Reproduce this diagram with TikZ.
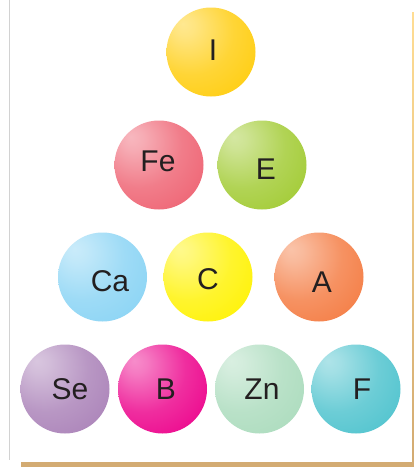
\documentclass[tikz,border=0pt]{standalone}
\usepackage{fontspec}
\setmainfont{Liberation Sans}
\makeatletter
\colorlet{ballc}{red}
\pgfdeclareradialshading[ballc]{sphere}{\pgfpoint{-16bp}{16bp}}{%
  color(0bp)=(ballc!45!white);
  color(6bp)=(ballc!52!white);
  color(24bp)=(ballc!82!white);
  color(44bp)=(ballc);
  color(80bp)=(ballc)}
\makeatother
\definecolor{cI}{HTML}{FFCC0A}
\definecolor{cFe}{HTML}{EE6070}
\definecolor{cE}{HTML}{A0CA30}
\definecolor{cCa}{HTML}{88D3F4}
\definecolor{cC}{HTML}{FFF200}
\definecolor{cA}{HTML}{F47A40}
\definecolor{cSe}{HTML}{A980B7}
\definecolor{cB}{HTML}{EC008A}
\definecolor{cZn}{HTML}{AADBBC}
\definecolor{cF}{HTML}{4CC2CD}
\definecolor{tan}{HTML}{D3AB72}
\definecolor{tanlight}{HTML}{FFDD94}
\definecolor{txt}{HTML}{231F20}
\tikzset{
  sph/.style={circle, draw=none, minimum size=89pt, inner sep=0pt,
    preaction={/utils/exec={\colorlet{ballc}{#1}}, shading=sphere}},
  lbl/.style={font=\fontsize{30}{30}\selectfont, text=txt, inner sep=0pt, anchor=center}
}
\begin{document}
\begin{tikzpicture}[x=1pt,y=-1pt]
\useasboundingbox (0,0) rectangle (414,467);
\fill[white] (0,0) rectangle (414,467);
% frame
\draw[line width=1.2pt, draw={rgb,255:red,210;green,210;blue,210}] (9.5,0) -- (9.5,460);
\shade[top color=tanlight, bottom color=tan] (412,12) rectangle (414,462);
\fill[tan] (21,462) rectangle (414,467);
% spheres
\node[sph=cI]  (I)  at (211,52) {};
\node[sph=cFe] (Fe) at (159,165) {};
\node[sph=cE]  (E)  at (262,165) {};
\node[sph=cCa] (Ca) at (102.5,277) {};
\node[sph=cC]  (C)  at (208,277) {};
\node[sph=cA]  (A)  at (319,277) {};
\node[sph=cSe] (Se) at (65,389) {};
\node[sph=cB]  (B)  at (162.5,389) {};
\node[sph=cZn] (Zn) at (259.5,389) {};
\node[sph=cF]  (F)  at (356,389) {};
% labels
\node[lbl] (tI)  at (213,50) {I};
\node[lbl] (tFe) at (158,161) {Fe};
\node[lbl] (tE)  at (266,169) {E};
\node[lbl] (tCa) at (110,281) {Ca};
\node[lbl] (tC)  at (208,279) {C};
\node[lbl] (tA)  at (322,282) {A};
\node[lbl] (tSe) at (70,389) {Se};
\node[lbl] (tB)  at (166,389) {B};
\node[lbl] (tZn) at (262,389) {Zn};
\node[lbl] (tF)  at (362,389) {F};
\end{tikzpicture}
\end{document}
